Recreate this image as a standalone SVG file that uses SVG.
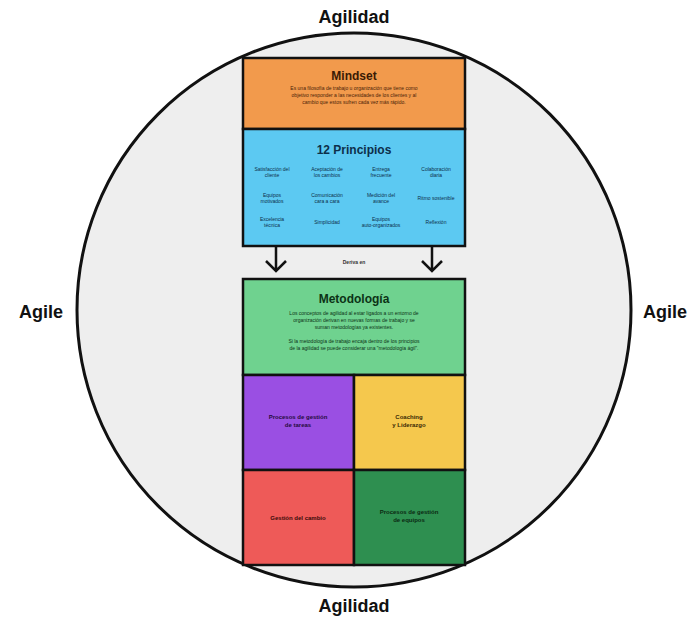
<svg xmlns="http://www.w3.org/2000/svg" width="695" height="619" viewBox="0 0 695 619">
<defs>
<style>
.big{font-family:"Liberation Sans",Arial,sans-serif;font-weight:bold;font-size:18px;fill:#111;text-anchor:middle}
.ttl{font-family:"Liberation Sans",Arial,sans-serif;font-weight:bold;font-size:12px;text-anchor:middle}
.sm{font-family:"Liberation Sans",Arial,sans-serif;font-size:5px;text-anchor:middle}
.q{font-family:"Liberation Sans",Arial,sans-serif;font-size:6px;font-weight:bold;text-anchor:middle}
.box{stroke:#111;stroke-width:2.5}
.arr{fill:none;stroke:#111;stroke-width:2.5}
</style>
</defs>
<rect width="695" height="619" fill="#ffffff"/>
<g id="circle">
<circle cx="354" cy="310" r="277" fill="#eeeeee" stroke="#111" stroke-width="3"/>
</g>
<g id="labels">
<text class="big" x="354" y="23">Agilidad</text>
<text class="big" x="354" y="612">Agilidad</text>
<text class="big" x="41" y="318">Agile</text>
<text class="big" x="665" y="318">Agile</text>
</g>
<g id="mindset">
<rect class="box" x="243" y="58" width="222" height="71" fill="#f29a4c"/>
<text class="ttl" x="354" y="80" fill="#3a1a05">Mindset</text>
<text class="sm" x="354" y="90" fill="#4a2208">Es una filosofía de trabajo u organización que tiene como</text>
<text class="sm" x="354" y="97" fill="#4a2208">objetivo responder a las necesidades de los clientes y al</text>
<text class="sm" x="354" y="104" fill="#4a2208">cambio que estos sufren cada vez más rápido.</text>
</g>
<g id="principios">
<rect class="box" x="243" y="129" width="222" height="117" fill="#5cc9f2"/>
<text class="ttl" x="354" y="154" fill="#0d2f4a">12 Principios</text>
<g fill="#0d2f4a">
<text class="sm" x="272" y="171">Satisfacción del</text><text class="sm" x="272" y="177">cliente</text>
<text class="sm" x="327" y="171">Aceptación de</text><text class="sm" x="327" y="177">los cambios</text>
<text class="sm" x="381" y="171">Entrega</text><text class="sm" x="381" y="177">frecuente</text>
<text class="sm" x="436" y="171">Colaboración</text><text class="sm" x="436" y="177">diaria</text>
<text class="sm" x="272" y="197">Equipos</text><text class="sm" x="272" y="203">motivados</text>
<text class="sm" x="327" y="197">Comunicación</text><text class="sm" x="327" y="203">cara a cara</text>
<text class="sm" x="381" y="197">Medición del</text><text class="sm" x="381" y="203">avance</text>
<text class="sm" x="436" y="200">Ritmo sostenible</text>
<text class="sm" x="272" y="221">Excelencia</text><text class="sm" x="272" y="227">técnica</text>
<text class="sm" x="327" y="224">Simplicidad</text>
<text class="sm" x="381" y="221">Equipos</text><text class="sm" x="381" y="227">auto-organizados</text>
<text class="sm" x="436" y="224">Reflexión</text>
</g>
</g>
<g id="connectors">
<path class="arr" d="M276 246 V271 M266 261 L276 271 L286 261"/>
<path class="arr" d="M432 246 V271 M422 261 L432 271 L442 261"/>
<text class="sm" x="354" y="264" fill="#333" font-weight="bold">Deriva en</text>
</g>
<g id="metodologia">
<rect class="box" x="243" y="279" width="222" height="96" fill="#6fd28f"/>
<text class="ttl" x="354" y="303" fill="#0c3316">Metodología</text>
<g fill="#0c3316">
<text class="sm" x="354" y="315">Los conceptos de agilidad al estar ligados a un entorno de</text>
<text class="sm" x="354" y="322">organización derivan en nuevas formas de trabajo y se</text>
<text class="sm" x="354" y="329">suman metodologías ya existentes.</text>
<text class="sm" x="354" y="343">Si la metodología de trabajo encaja dentro de los principios</text>
<text class="sm" x="354" y="350">de la agilidad se puede considerar una "metodología ágil".</text>
</g>
</g>
<g id="tareas">
<rect class="box" x="243" y="375" width="111" height="95" fill="#9a4fe3"/>
<text class="q" x="298" y="419" fill="#250b40">Procesos de gestión</text>
<text class="q" x="298" y="427" fill="#250b40">de tareas</text>
</g>
<g id="coaching">
<rect class="box" x="354" y="375" width="111" height="95" fill="#f5c84d"/>
<text class="q" x="409" y="419" fill="#3a2a05">Coaching</text>
<text class="q" x="409" y="427" fill="#3a2a05">y Liderazgo</text>
</g>
<g id="cambio">
<rect class="box" x="243" y="470" width="111" height="95" fill="#ee5a58"/>
<text class="q" x="298" y="520" fill="#3a0a0a">Gestión del cambio</text>
</g>
<g id="equipos">
<rect class="box" x="354" y="470" width="111" height="95" fill="#2e8f50"/>
<text class="q" x="409" y="514" fill="#0a2a12">Procesos de gestión</text>
<text class="q" x="409" y="522" fill="#0a2a12">de equipos</text>
</g>
</svg>
